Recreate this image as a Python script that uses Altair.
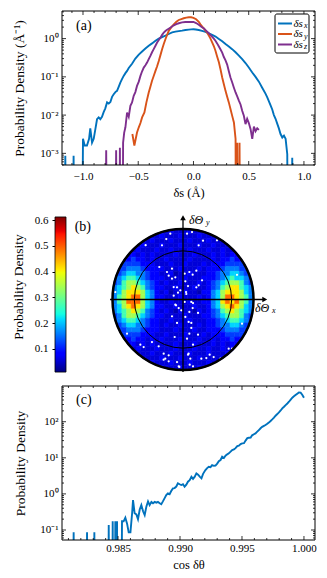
import altair as alt
import pandas as pd

SERIF = "Liberation Serif"

# ---------------- panel (a): displacement distributions ----------------
dsx_pos = [-1.175, -1.160, -1.145, -1.100, -1.085, -1.070, -1.015, -1.000, -0.985, -0.964,
           -0.945, -0.934, -0.918, -0.903, -0.888, -0.873, -0.858, -0.843, -0.828, -0.813,
           -0.798, -0.782, -0.767, -0.752, -0.737, -0.722, -0.707, -0.692, -0.677, -0.662,
           -0.647, -0.632, -0.616, -0.601, -0.586, -0.556, -0.526, -0.495, -0.465, -0.435,
           -0.405, -0.375, -0.344, -0.314, -0.284, -0.254, -0.224, -0.193, -0.163, -0.133,
           -0.103, -0.073, -0.042, -0.021, 0.000, 0.021, 0.048, 0.078, 0.109, 0.139,
           0.169, 0.200, 0.230, 0.260, 0.290, 0.320, 0.350, 0.381, 0.411, 0.441,
           0.471, 0.501, 0.532, 0.562, 0.592, 0.622, 0.653, 0.668, 0.683, 0.698,
           0.713, 0.728, 0.743, 0.758, 0.773, 0.788, 0.804, 0.819, 0.834, 0.849,
           0.860, 0.880, 0.894, 0.905]
dsx_val = [0, 0.00087, 0, 0, 0.00087, 0, 0, 0.0024, 0.0016, 0.0016,
           0.0024, 0.0045, 0.0019, 0.0024, 0.0043, 0.0078, 0.0087, 0.0078, 0.0090, 0.012,
           0.0150, 0.0215, 0.020, 0.022, 0.030, 0.035, 0.040, 0.043, 0.055, 0.071,
           0.087, 0.106, 0.125, 0.143, 0.17, 0.22, 0.30, 0.38, 0.46, 0.55,
           0.65, 0.75, 0.88, 1.00, 1.10, 1.20, 1.32, 1.45, 1.52, 1.57,
           1.62, 1.68, 1.72, 1.74, 1.75, 1.73, 1.68, 1.60, 1.50, 1.38,
           1.25, 1.13, 0.98, 0.85, 0.72, 0.62, 0.53, 0.44, 0.36, 0.29,
           0.23, 0.175, 0.13, 0.10, 0.075, 0.052, 0.036, 0.029, 0.023, 0.018,
           0.014, 0.010, 0.0080, 0.0060, 0.0045, 0.0032, 0.0026, 0.0029, 0.0024, 0.00095,
           0, 0, 0.00077, 0]
dsy_pos = [-0.553, -0.535, -0.511, -0.495, -0.480, -0.465, -0.444, -0.426, -0.405, -0.390,
           -0.375, -0.360, -0.344, -0.329, -0.314, -0.299, -0.284, -0.269, -0.254, -0.239,
           -0.224, -0.200, -0.178, -0.155, -0.133, -0.110, -0.088, -0.065, -0.042, -0.021,
           0.000, 0.024, 0.048, 0.063, 0.079, 0.094, 0.109, 0.124, 0.139, 0.154,
           0.169, 0.184, 0.199, 0.214, 0.230, 0.245, 0.260, 0.275, 0.290, 0.305,
           0.320, 0.335, 0.350, 0.366, 0.381, 0.388, 0.396, 0.405, 0.417, 0.428]
dsy_val = [0.0032, 0.0016, 0.0035, 0.0048, 0.0062, 0.0087, 0.0117, 0.0215, 0.039, 0.055,
           0.079, 0.105, 0.143, 0.19, 0.26, 0.37, 0.53, 0.72, 0.96, 1.25,
           1.58, 2.0, 2.36, 2.75, 3.07, 3.25, 3.4, 3.55, 3.62, 3.62,
           3.50, 3.20, 2.75, 2.36, 2.05, 1.85, 1.62, 1.43, 1.20, 1.00,
           0.80, 0.64, 0.48, 0.34, 0.24, 0.155, 0.096, 0.064, 0.043, 0.030,
           0.0215, 0.0145, 0.0097, 0.0064, 0.0024, 0, 0.0019, 0, 0.0019, 0]
dsz_pos = [-0.805, -0.790, -0.775, -0.715, -0.700, -0.685, -0.675, -0.666, -0.657, -0.645,
           -0.637, -0.627, -0.616, -0.601, -0.586, -0.571, -0.556, -0.541, -0.526, -0.511,
           -0.495, -0.480, -0.465, -0.450, -0.435, -0.420, -0.405, -0.390, -0.375, -0.360,
           -0.344, -0.329, -0.314, -0.299, -0.284, -0.269, -0.254, -0.239, -0.224, -0.200,
           -0.178, -0.155, -0.133, -0.103, -0.073, -0.036, 0.000, 0.024, 0.048, 0.071,
           0.094, 0.116, 0.139, 0.161, 0.184, 0.199, 0.214, 0.230, 0.245, 0.260,
           0.275, 0.290, 0.305, 0.320, 0.335, 0.350, 0.366, 0.381, 0.396, 0.411,
           0.426, 0.441, 0.456, 0.471, 0.486, 0.501, 0.517, 0.532, 0.547, 0.562,
           0.577, 0.592]
dsz_val = [0, 0.0012, 0, 0, 0.0012, 0, 0, 0.0014, 0, 0,
           0.0019, 0.0035, 0.0048, 0.0117, 0.0090, 0.0175, 0.0215, 0.032, 0.040, 0.058,
           0.075, 0.106, 0.14, 0.175, 0.20, 0.236, 0.29, 0.353, 0.44, 0.53,
           0.65, 0.79, 0.92, 1.06, 1.25, 1.43, 1.58, 1.70, 1.82, 2.02,
           2.23, 2.40, 2.52, 2.65, 2.72, 2.74, 2.72, 2.55, 2.30, 2.05,
           1.85, 1.60, 1.38, 1.18, 1.00, 0.88, 0.75, 0.62, 0.52, 0.43,
           0.33, 0.27, 0.21, 0.14, 0.096, 0.072, 0.052, 0.039, 0.031, 0.024,
           0.019, 0.013, 0.0096, 0.0058, 0.0080, 0.0062, 0.0043, 0.0024, 0.0050, 0.0038,
           0.0045, 0.0041]
series_names = ["δs_x", "δs_y", "δs_z"]
series_colors = ["#0072BD", "#D95319", "#7E2F8E"]
a_x_major = [-1.0, -0.5, 0.0, 0.5, 1.0]
a_x_minor = [-1.1, -0.9, -0.8, -0.7, -0.6, -0.4, -0.3, -0.2, -0.1, 0.1, 0.2, 0.3, 0.4, 0.6, 0.7, 0.8, 0.9]
a_y_major = [1e-3, 1e-2, 1e-1, 1.0]

# ---------------- panel (b): angular density map ----------------
cb_ticks = [0.1, 0.2, 0.3, 0.4, 0.5, 0.6]
cb_lo, cb_hi = 0.009, 0.613
heat_levels = [0.035, 0.055, 0.085, 0.12, 0.16, 0.21, 0.27, 0.34, 0.41, 0.49]
heat_rows = [
    "1111111111" "1121112111" "1111111111",
    "1111111111" "2111211121" "1111111111",
    "1111111121" "1121112111" "2111111111",
    "1111112111" "2111211121" "1211111111",
    "1111121112" "1121112111" "2112111211",
    "1222212121" "1112111211" "1212122221",
    "2222322121" "1211112111" "1212232222",
    "2233332221" "1121121112" "1222333322",
    "2334443222" "2111211121" "2223444332",
    "3345544322" "1120112111" "2234455433",
    "3456654322" "2111121112" "2234565543",
    "3467765432" "1211211121" "2345677643",
    "4567876432" "2112111211" "2346788654",
    "4578887542" "1201121102" "2457888754",
    "4678997542" "2111211121" "2457998764",
    "4679997542" "1121112112" "2458989764",
    "4578987542" "2112111211" "2457898754",
    "4567876432" "1210211021" "2346787654",
    "3467765432" "2111121112" "2345677643",
    "3456654322" "1121112111" "2234566543",
    "3345544322" "1211211121" "2234455433",
    "2334443222" "1112111211" "2223444332",
    "2233332221" "1211121112" "1222333322",
    "2222322121" "2111211121" "1212232222",
    "1222212121" "1112111211" "1212122221",
    "1112121112" "1112111211" "2112121111",
    "1111211121" "1121112111" "2111211111",
    "1111121111" "2111211121" "1112111111",
    "1111111121" "1121112111" "2111111111",
    "1111111111" "2111211121" "1111111111",
]
dot_x = [0.057, 0.128, -0.180, -0.298, 0.222, 0.482, -0.336, -0.227, -0.156, 0.024,
         0.090, 0.137, -0.156, 0.033, 0.071, -0.132, -0.038, -0.071, 0.043, 0.222,
         0.270, -0.099, -0.061, 0.024, -0.024, 0.118, 0.137, 0.090, 0.033, 0.080,
         0.118, 0.090, 0.057, -0.118, -0.440, -0.558, -0.274, -0.203, -0.251, -0.085,
         -0.052, 0.104, 0.260, 0.435, 0.530, 0.648, 0.766, 0.080, -0.237, -0.203,
         -0.109, -0.085, -0.132, 0.284, 0.189, 0.189, 0.047, -0.109, -0.156, -0.085,
         -0.605, -0.345, -0.274, -0.203, -0.061, 0.142, 0.213, 0.118, 0.213, 0.142,
         0.071, 0.378, 0.331, 0.095, 0.142, -0.960, -0.794, 0.766, 0.837, 0.695, -0.530]
dot_y = [0.934, 0.957, 0.934, 0.768, 0.768, 0.839, 0.461, 0.390, 0.437, 0.366,
         0.390, 0.352, 0.296, 0.258, 0.191, 0.177, 0.130, 0.097, 0.106, 0.201,
         0.272, -0.083, -0.121, -0.035, -0.154, -0.035, -0.121, -0.177, -0.248, -0.319,
         -0.404, -0.485, -0.556, -0.532, -0.603, -0.674, -0.768, -0.792, -0.839, -0.887,
         -0.957, -0.839, -0.839, -0.816, -0.839, -0.697, -0.650, -0.768, 0.858, 0.338,
         0.314, 0.173, 0.054, 0.834, 0.409, 0.173, 0.078, -0.073, -0.239, -0.333,
         -0.641, -0.664, -0.853, -0.876, -0.948, -0.050, -0.191, -0.333, -0.499, -0.641,
         -0.783, -0.783, -0.830, -0.925, -0.948, 0.106, -0.485, 0.350, -0.343, -0.698, 0.770]
inner_ring = 0.69

# ---------------- panel (c): cos(delta theta) distribution ----------------
cos_pos = [0.98130, 0.98142, 0.98154, 0.98238, 0.98250, 0.98262, 0.98297, 0.98309, 0.98321, 0.98413,
           0.98425, 0.98437, 0.98448, 0.98457, 0.98468, 0.98478, 0.98485, 0.98492, 0.98500, 0.98518,
           0.98532, 0.98545, 0.98559, 0.98573, 0.98586, 0.98600, 0.98614, 0.98621, 0.98634, 0.98648,
           0.98661, 0.98675, 0.98688, 0.98702, 0.98715, 0.98729, 0.98742, 0.98755, 0.98769, 0.98782,
           0.98796, 0.98809, 0.98822, 0.98836, 0.98849, 0.98862, 0.98875, 0.98889, 0.98902, 0.98916,
           0.98929, 0.98943, 0.98956, 0.98970, 0.98983, 0.98997, 0.99010, 0.99024, 0.99037, 0.99051,
           0.99064, 0.99078, 0.99092, 0.99105, 0.99119, 0.99132, 0.99146, 0.99159, 0.99173, 0.99186,
           0.99205, 0.99219, 0.99232, 0.99246, 0.99259, 0.99273, 0.99286, 0.99300, 0.99313, 0.99327,
           0.99340, 0.99354, 0.99367, 0.99381, 0.99394, 0.99408, 0.99421, 0.99435, 0.99448, 0.99462,
           0.99475, 0.99489, 0.99502, 0.99516, 0.99529, 0.99543, 0.99556, 0.99570, 0.99582, 0.99596,
           0.99609, 0.99623, 0.99636, 0.99650, 0.99663, 0.99677, 0.99690, 0.99704, 0.99717, 0.99731,
           0.99744, 0.99758, 0.99771, 0.99785, 0.99798, 0.99812, 0.99825, 0.99839, 0.99852, 0.99866,
           0.99879, 0.99893, 0.99906, 0.99919, 0.99932, 0.99946, 0.99959, 0.99973, 0.99986, 1.00000]
cos_val = [0, 0.086, 0, 0, 0.086, 0, 0, 0.086, 0, 0,
           0.137, 0, 0, 0.174, 0, 0.174, 0.086, 0.174, 0, 0,
           0.174, 0.174, 0.22, 0.15, 0.086, 0.086, 0.30, 0.676, 0.29, 0.27,
           0.20, 0.37, 0.49, 0.33, 0.26, 0.45, 0.62, 0.49, 0.60, 0.55,
           0.60, 0.57, 0.60, 0.55, 0.52, 0.62, 0.75, 0.93, 1.03, 0.98,
           1.20, 1.42, 1.45, 1.60, 1.96, 1.85, 1.76, 1.85, 1.58, 1.80,
           2.18, 2.40, 2.99, 2.60, 3.0, 3.7, 3.4, 3.0, 2.69, 3.6,
           4.57, 5.2, 5.66, 5.5, 6.3, 6.0, 6.1, 6.9, 8.1, 8.7,
           10.7, 9.9, 11.5, 12.5, 13.3, 14.8, 16.4, 17.0, 18.5, 21.0,
           21.6, 24.0, 25.1, 25.5, 30.0, 35.0, 36.0, 36.5, 42.0, 45.0,
           47.5, 53.0, 58.8, 66.0, 72.0, 77.0, 81.0, 88.0, 95.6, 105,
           116, 130, 147, 163, 181, 205, 234, 260, 289, 320,
           358, 410, 463, 505, 549, 600, 650, 640, 560, 463]
c_x_major = [0.985, 0.990, 0.995, 1.000]
c_x_minor = [0.981, 0.982, 0.983, 0.984, 0.986, 0.987, 0.988, 0.989, 0.991, 0.992,
             0.993, 0.994, 0.996, 0.997, 0.998, 0.999]
c_y_major = [0.1, 1.0, 10.0, 100.0]

# ---------------- helpers ----------------
FLOOR = 1e-9  # empty histogram bins drawn down to the bottom, as log clipping does
YTITLE = 13.5


def log_minor(lo, hi):
    out = []
    for d in range(-5, 4):
        for k in range(2, 10):
            v = k * 10.0 ** d
            if lo < v < hi:
                out.append(v)
    return out


def pow_label_expr():
    sup = {-3: "⁻³", -2: "⁻²", -1: "⁻¹", 0: "⁰", 1: "¹", 2: "²"}
    expr = "''"
    for e, s in sup.items():
        expr = f"round(log(datum.value)/LN10) == {e} ? '10{s}' : (" + expr + ")"
    return expr


def tick_layers(W, H, xs, ys, xax, yax, xmaj, xmin, ymaj, ymin):
    out = []
    for vals, L in ((ymaj, 4), (ymin, 2)):
        d = pd.DataFrame({"y": vals})
        base = alt.Chart(d).mark_rule(color="black", strokeWidth=0.8)
        out.append(base.encode(y=alt.Y("y:Q", scale=ys, axis=yax), x=alt.value(0), x2=alt.value(L)))
        out.append(base.encode(y=alt.Y("y:Q", scale=ys, axis=yax), x=alt.value(W), x2=alt.value(W - L)))
    for vals, L in ((xmaj, 4), (xmin, 2)):
        d = pd.DataFrame({"x": vals})
        base = alt.Chart(d).mark_rule(color="black", strokeWidth=0.8)
        out.append(base.encode(x=alt.X("x:Q", scale=xs, axis=xax), y=alt.value(H), y2=alt.value(H - L)))
        out.append(base.encode(x=alt.X("x:Q", scale=xs, axis=xax), y=alt.value(0), y2=alt.value(L)))
    return out


one = pd.DataFrame({"k": [0]})


def frame(W, H):
    return alt.Chart(one).mark_rect(fill="transparent", stroke="black", strokeWidth=1).encode(
        x=alt.value(0), x2=alt.value(W), y=alt.value(0), y2=alt.value(H))


def label(txt, px, py, size=14, style="normal", align="left"):
    return alt.Chart(one).mark_text(text=txt, font=SERIF, fontSize=size, fontStyle=style,
                                    align=align, baseline="middle", color="black").encode(
        x=alt.value(px), y=alt.value(py))


# ---------------- panel (a) ----------------
WA, HA = 253, 154
xs_a = alt.Scale(domain=[-1.19, 1.10], nice=False, zero=False)
ys_a = alt.Scale(type="log", domain=[4.96e-4, 5.27], nice=False)
xax_a = alt.Axis(values=a_x_major, format=".1f", ticks=False, domain=False, grid=False,
                 labelPadding=5, title="δs (Å)", titleY=21)
yax_a = alt.Axis(values=a_y_major, labelExpr=pow_label_expr(), ticks=False, domain=False, grid=False,
                 labelPadding=4, title="Probability Density (Å⁻¹)", titleFontSize=YTITLE,
                 titleX=-43, titleY=HA / 2, titleBaseline="middle")
rows_a = []
for name, P, V in zip(series_names, (dsx_pos, dsy_pos, dsz_pos), (dsx_val, dsy_val, dsz_val)):
    for p, v in zip(P, V):
        rows_a.append({"x": p, "y": v if v > 0 else FLOOR, "s": name})
df_a = pd.DataFrame(rows_a)

lines_a = alt.Chart(df_a).mark_line(clip=True, strokeWidth=1.9).encode(
    x=alt.X("x:Q", scale=xs_a, axis=xax_a),
    y=alt.Y("y:Q", scale=ys_a, axis=yax_a),
    color=alt.Color("s:N", scale=alt.Scale(domain=series_names, range=series_colors), legend=None),
)

legend_layers = [alt.Chart(one).mark_rect(fill="white", stroke="black", strokeWidth=1, cornerRadius=2).encode(
    x=alt.value(213), x2=alt.value(247), y=alt.value(3), y2=alt.value(42))]
for k, (name, col) in enumerate(zip(series_names, series_colors)):
    yy = 12.5 + 10.5 * k
    legend_layers.append(alt.Chart(one).mark_rule(color=col, strokeWidth=2).encode(
        x=alt.value(216), x2=alt.value(230), y=alt.value(yy)))
    legend_layers.append(label("δs", 231.5, yy, size=11, style="italic"))
    legend_layers.append(label(name[-1], 242, yy + 2.5, size=8, style="italic"))

panel_a = alt.layer(
    lines_a, *tick_layers(WA, HA, xs_a, ys_a, xax_a, yax_a, a_x_major, a_x_minor, a_y_major,
                          log_minor(4.96e-4, 5.27)),
    frame(WA, HA), *legend_layers, label("(a)", 14, 15)
).properties(width=WA, height=HA)

# ---------------- panel (b) ----------------
WB, HB = 230, 165
R = 70.5  # pixels per unit of the angular map
xs_b = alt.Scale(domain=[-121 / R, 109 / R], nice=False, zero=False)
ys_b = alt.Scale(domain=[-74.5 / R, 90.5 / R], nice=False, zero=False)

jet_t = [0.0, 0.11, 0.125, 0.34, 0.375, 0.64, 0.66, 0.89, 0.91, 1.0]
jet_c = ["#000080", "#0000ff", "#0000ff", "#00dbff", "#14ffe2", "#eeff08", "#ffec00", "#ff1300", "#e80000", "#800000"]
jet_d = [cb_lo + t * (cb_hi - cb_lo) for t in jet_t]
jet_scale = alt.Scale(domain=jet_d, range=jet_c, interpolate="rgb")

N = len(heat_rows)
cell = 2.0 / N
cells = []
for j, row in enumerate(heat_rows):
    y1 = 1 - j * cell
    y0 = y1 - cell
    for i, ch in enumerate(row):
        x0 = -1 + i * cell
        x1 = x0 + cell
        nx = min(max(0.0, x0), x1)
        ny = min(max(0.0, y0), y1)
        if nx * nx + ny * ny < 1.0:
            cells.append({"x0": x0, "x1": x1, "y0": y0, "y1": y1, "v": heat_levels[int(ch)]})
df_cells = pd.DataFrame(cells)

heat = alt.Chart(df_cells).mark_rect(clip=True, strokeWidth=0.6).encode(
    x=alt.X("x0:Q", scale=xs_b, axis=None), x2="x1:Q",
    y=alt.Y("y0:Q", scale=ys_b, axis=None), y2="y1:Q",
    color=alt.Color("v:Q", scale=jet_scale, legend=None),
    stroke=alt.Stroke("v:Q", scale=jet_scale, legend=None),
)
center = pd.DataFrame({"x": [0.0], "y": [0.0]})
cx = alt.X("x:Q", scale=xs_b, axis=None)
cy = alt.Y("y:Q", scale=ys_b, axis=None)
mask = alt.Chart(center).mark_arc(theta=0, theta2=6.3, innerRadius=R + 1, outerRadius=R + 9,
                                  fill="white", clip=True).encode(x=cx, y=cy)
outer = alt.Chart(center).mark_arc(theta=0, theta2=6.3, innerRadius=0, outerRadius=R,
                                   fill="transparent", stroke="black", strokeWidth=2.5).encode(x=cx, y=cy)
inner = alt.Chart(center).mark_arc(theta=0, theta2=6.3, innerRadius=0, outerRadius=R * inner_ring,
                                   fill="transparent", stroke="black", strokeWidth=1).encode(x=cx, y=cy)
dots = alt.Chart(pd.DataFrame({"x": dot_x, "y": dot_y})).mark_circle(size=5, color="white", opacity=1).encode(
    x=cx, y=cy)
arrows = pd.DataFrame({"x": [-1.035, 0.0], "x2": [1.16, 0.0], "y": [0.0, -1.03], "y2": [0.0, 1.16]})
axes_lines = alt.Chart(arrows).mark_rule(color="black", strokeWidth=1.3).encode(
    x=cx, x2="x2:Q", y=cy, y2="y2:Q")
heads = alt.Chart(pd.DataFrame({"x": [1.16, 0.0], "y": [0.0, 1.16], "shp": ["triangle-right", "triangle-up"]})
                  ).mark_point(filled=True, size=32, color="black", opacity=1).encode(
    x=cx, y=cy, shape=alt.Shape("shp:N", scale=None))
ax_labels = pd.DataFrame({"x": [0.085, 1.02], "y": [1.13, -0.12], "t": ["δΘ", "δΘ"], "s": ["y", "x"]})
ax_main = alt.Chart(ax_labels).mark_text(font=SERIF, fontSize=12, fontStyle="italic", align="left",
                                         baseline="middle", color="black").encode(x=cx, y=cy, text="t:N")
ax_sub = alt.Chart(ax_labels).mark_text(font=SERIF, fontSize=8, fontStyle="italic", align="left",
                                        baseline="middle", color="black", dx=17, dy=3).encode(x=cx, y=cy, text="s:N")

grad = alt.Gradient(gradient="linear", x1=0, x2=0, y1=1, y2=0,
                    stops=[alt.GradientStop(offset=t, color=c) for t, c in zip(jet_t, jet_c)])
cb_scale = alt.Scale(domain=[0.1 - (372 - 346.7) / 256.8, 0.6 + (218.3 - 207) / 256.8], nice=False, zero=False)
colorbar = alt.Chart(pd.DataFrame({"lo": [cb_lo], "hi": [cb_hi]})).mark_rect(
    fill=grad, stroke="black", strokeWidth=0.8).encode(
    x=alt.value(-7), x2=alt.value(4),
    y=alt.Y("lo:Q", scale=cb_scale, axis=alt.Axis(orient="left", offset=7, values=cb_ticks, format=".1f",
                                                  tickSize=3, tickColor="black", domain=False, grid=False,
                                                  labelPadding=4, title="Probability Density",
                                                  titleFontSize=YTITLE,
                                                  titleX=-37, titleY=(372 - 207) / 2 - 5,
                                                  titleBaseline="middle")),
    y2="hi:Q",
)

heat_group = alt.layer(heat, mask, dots, inner, outer, axes_lines, heads, ax_main, ax_sub,
                       label("(b)", 12.7, 18))
panel_b = alt.layer(colorbar, heat_group).resolve_scale(y="independent").properties(width=WB, height=HB)

# ---------------- panel (c) ----------------
WC, HC = 253, 154
xs_c = alt.Scale(domain=[0.98048, 1.00089], nice=False, zero=False)
ys_c = alt.Scale(type="log", domain=[0.0528, 977], nice=False)
xax_c = alt.Axis(values=c_x_major, format=".3f", ticks=False, domain=False, grid=False,
                 labelPadding=2, title="cos δθ", titleY=18)
yax_c = alt.Axis(values=c_y_major, labelExpr=pow_label_expr(), ticks=False, domain=False, grid=False,
                 labelPadding=4, title="Probability Density", titleFontSize=YTITLE,
                 titleX=-42, titleY=HC / 2, titleBaseline="middle")
df_c = pd.DataFrame({"x": cos_pos, "y": [v if v > 0 else FLOOR for v in cos_val]})
line_c = alt.Chart(df_c).mark_line(clip=True, strokeWidth=1.9, color=series_colors[0]).encode(
    x=alt.X("x:Q", scale=xs_c, axis=xax_c),
    y=alt.Y("y:Q", scale=ys_c, axis=yax_c),
)
panel_c = alt.layer(
    line_c, *tick_layers(WC, HC, xs_c, ys_c, xax_c, yax_c, c_x_major, c_x_minor, c_y_major,
                         log_minor(0.0528, 977)),
    frame(WC, HC), label("(c)", 14, 14)
).properties(width=WC, height=HC)

chart = alt.vconcat(panel_a, panel_b, panel_c, spacing=9).properties(
    padding={"left": 2, "top": 2, "right": 0, "bottom": 0}
).configure_view(stroke="transparent").configure_axis(
    labelFont=SERIF, titleFont=SERIF, labelColor="black", titleColor="black",
    titleFontWeight="normal", labelFontSize=11, titleFontSize=12.5
)

chart.save("out.html", embed_options={"renderer": "svg", "actions": False})
